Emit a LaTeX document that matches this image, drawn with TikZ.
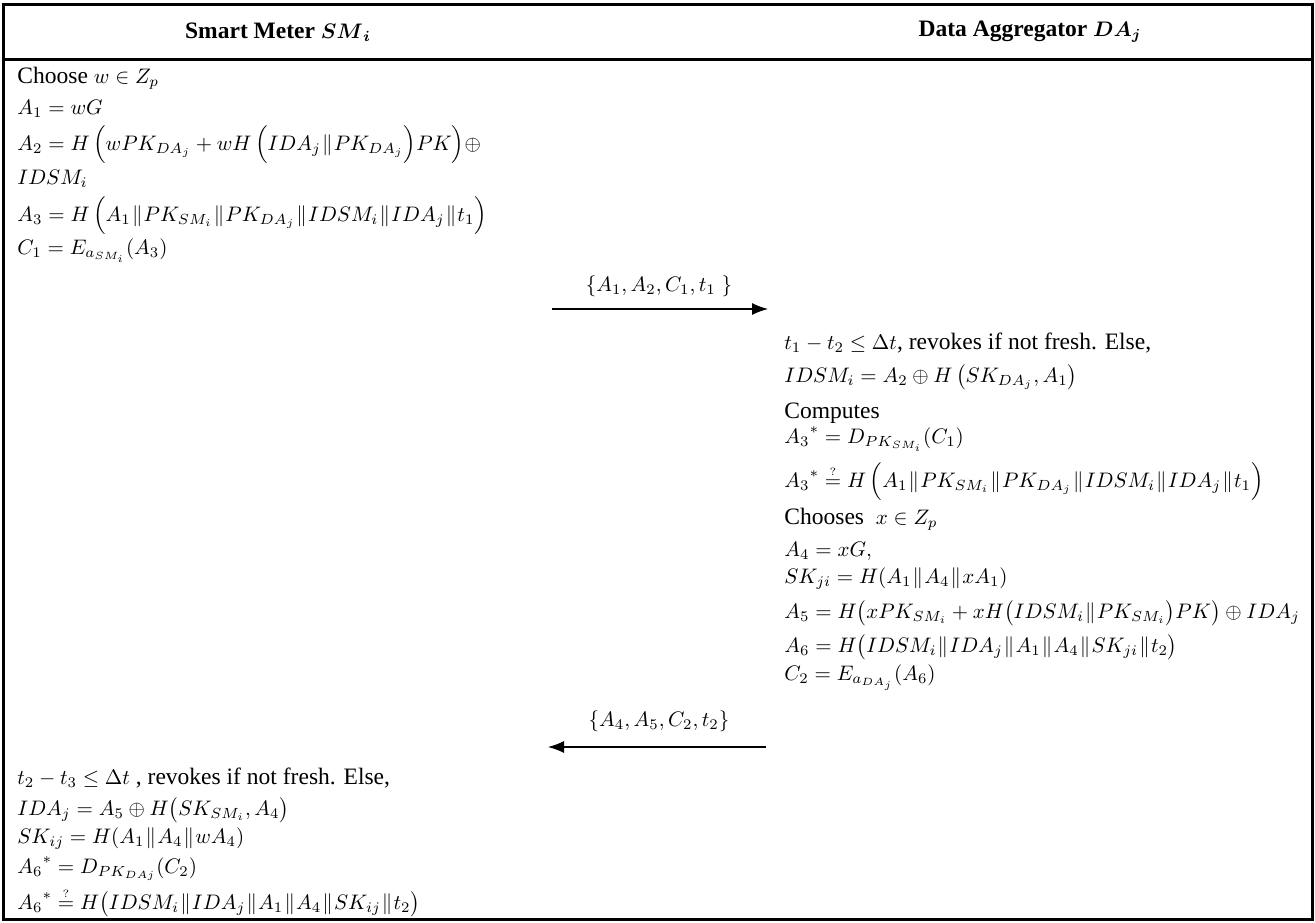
\RequirePackage{fix-cm}
\documentclass[tikz,border=0pt]{standalone}
\usepackage{amsmath}
\usepackage{amssymb}
\usepackage{fontspec}
\setmainfont{Liberation Serif}[Scale=1.12]
\usepackage{tikz}
\usetikzlibrary{arrows.meta}
\usetikzlibrary{positioning}

\newcommand{\cc}{\mkern1mu\Vert\mkern1mu}
\newcommand{\qeq}{\stackrel{\scriptscriptstyle ?}{=}}

\begin{document}
\begin{tikzpicture}[x=0.5pt,y=-0.5pt,>={Latex[length=8pt,width=6pt]},
    font=\fontsize{10.5}{12}\selectfont]
  \tikzstyle{ln}=[anchor=base west, inner sep=0pt]
  \tikzstyle{hd}=[font=\fontsize{10.5}{12}\selectfont\bfseries, inner sep=0pt]
  \tikzstyle{msg}=[->, line width=0.6pt]
  \tikzstyle{frame}=[line width=1.5pt]
  \useasboundingbox (0,0) rectangle (1315,922);
  % table frame
  \draw[frame] (3,4) rectangle (1312,919);
  \draw[frame] (3,59) -- (1312,59);
  \node[hd] (sm) at (278,32) {Smart Meter $\boldsymbol{SM}_{\boldsymbol{i}}$};
  \node[hd] (da) at (1030,32) {Data Aggregator $\boldsymbol{DA}_{\boldsymbol{j}}$};
  % smart meter, first step
  \node[ln] (a1) at (17,83) {Choose $w \in Z_p$};
  \node[below=15.5pt of a1.base west, ln] (a2) {$A_1 = wG$};
  \node[below=18pt of a2.base west, ln] (a3) {$A_2 = H\,\Bigl(wPK_{DA_j} + wH\,\Bigl(IDA_j \cc PK_{DA_j}\Bigr)PK\Bigr) \oplus$};
  \node[below=17pt of a3.base west, ln] (a4) {$IDSM_i$};
  \node[below=18.5pt of a4.base west, ln] (a5) {$A_3 = H\,\Bigl(A_1 \cc PK_{SM_i} \cc PK_{DA_j} \cc IDSM_i \cc IDA_j \cc t_1\Bigr)$};
  \node[below=16.5pt of a5.base west, ln] (a6) {$C_1 = E_{a_{SM_i}}(A_3)$};
  % first message
  \coordinate (m1s) at (552,309);
  \coordinate (m1e) at (768,309);
  \node[inner sep=0pt] (m1) at (659,286) {$\{A_1, A_2, C_1, t_1\ \}$};
  \draw[msg] (m1s) -- (m1e);
  % data aggregator
  \node[ln] (b1) at (784,349) {$t_1 - t_2 \leq \Delta t$, revokes if not fresh. Else,};
  \node[below=16.5pt of b1.base west, ln] (b2) {$IDSM_i = A_2 \oplus H\,\bigl(SK_{DA_j}, A_1\bigr)$};
  \node[below=18pt of b2.base west, ln] (b3) {Computes};
  \node[below=12.5pt of b3.base west, ln] (b4) {${A_3}^{*} = D_{PK_{SM_i}}(C_1)$};
  \node[below=22pt of b4.base west, ln] (b5) {${A_3}^{*} \qeq H\,\Bigl(A_1 \cc PK_{SM_i} \cc PK_{DA_j} \cc IDSM_i \cc IDA_j \cc t_1\Bigr)$};
  \node[below=18.5pt of b5.base west, ln] (b6) {Chooses\ \ $x \in Z_p$};
  \node[below=16pt of b6.base west, ln] (b7) {$A_4 = xG,$};
  \node[below=13.5pt of b7.base west, ln] (b8) {$SK_{ji} = H(A_1 \cc A_4 \cc xA_1)$};
  \node[below=17.5pt of b8.base west, ln] (b9) {$A_5 = H\bigl(xPK_{SM_i} + xH\bigl(IDSM_i \cc PK_{SM_i}\bigr)PK\bigr) \oplus IDA_j$};
  \node[below=17pt of b9.base west, ln] (b10) {$A_6 = H\bigl(IDSM_i \cc IDA_j \cc A_1 \cc A_4 \cc SK_{ji} \cc t_2\bigr)$};
  \node[below=14pt of b10.base west, ln] (b11) {$C_2 = E_{a_{DA_j}}(A_6)$};
  % second message
  \coordinate (m2s) at (766,747);
  \coordinate (m2e) at (548,747);
  \node[inner sep=0pt] (m2) at (659,721) {$\{A_4, A_5, C_2, t_2\}$};
  \draw[msg] (m2s) -- (m2e);
  % smart meter, last step
  \node[ln] (c1) at (17,784) {$t_2 - t_3 \leq \Delta t$ , revokes if not fresh. Else,};
  \node[below=15.5pt of c1.base west, ln] (c2) {$IDA_j = A_5 \oplus H\bigl(SK_{SM_i}, A_4\bigr)$};
  \node[below=14pt of c2.base west, ln] (c3) {$SK_{ij} = H(A_1 \cc A_4 \cc wA_4)$};
  \node[below=15pt of c3.base west, ln] (c4) {${A_6}^{*} = D_{PK_{DAj}}(C_2)$};
  \node[below=18pt of c4.base west, ln] (c5) {${A_6}^{*} \qeq H\bigl(IDSM_i \cc IDA_j \cc A_1 \cc A_4 \cc SK_{ij} \cc t_2\bigr)$};
\end{tikzpicture}
\end{document}
